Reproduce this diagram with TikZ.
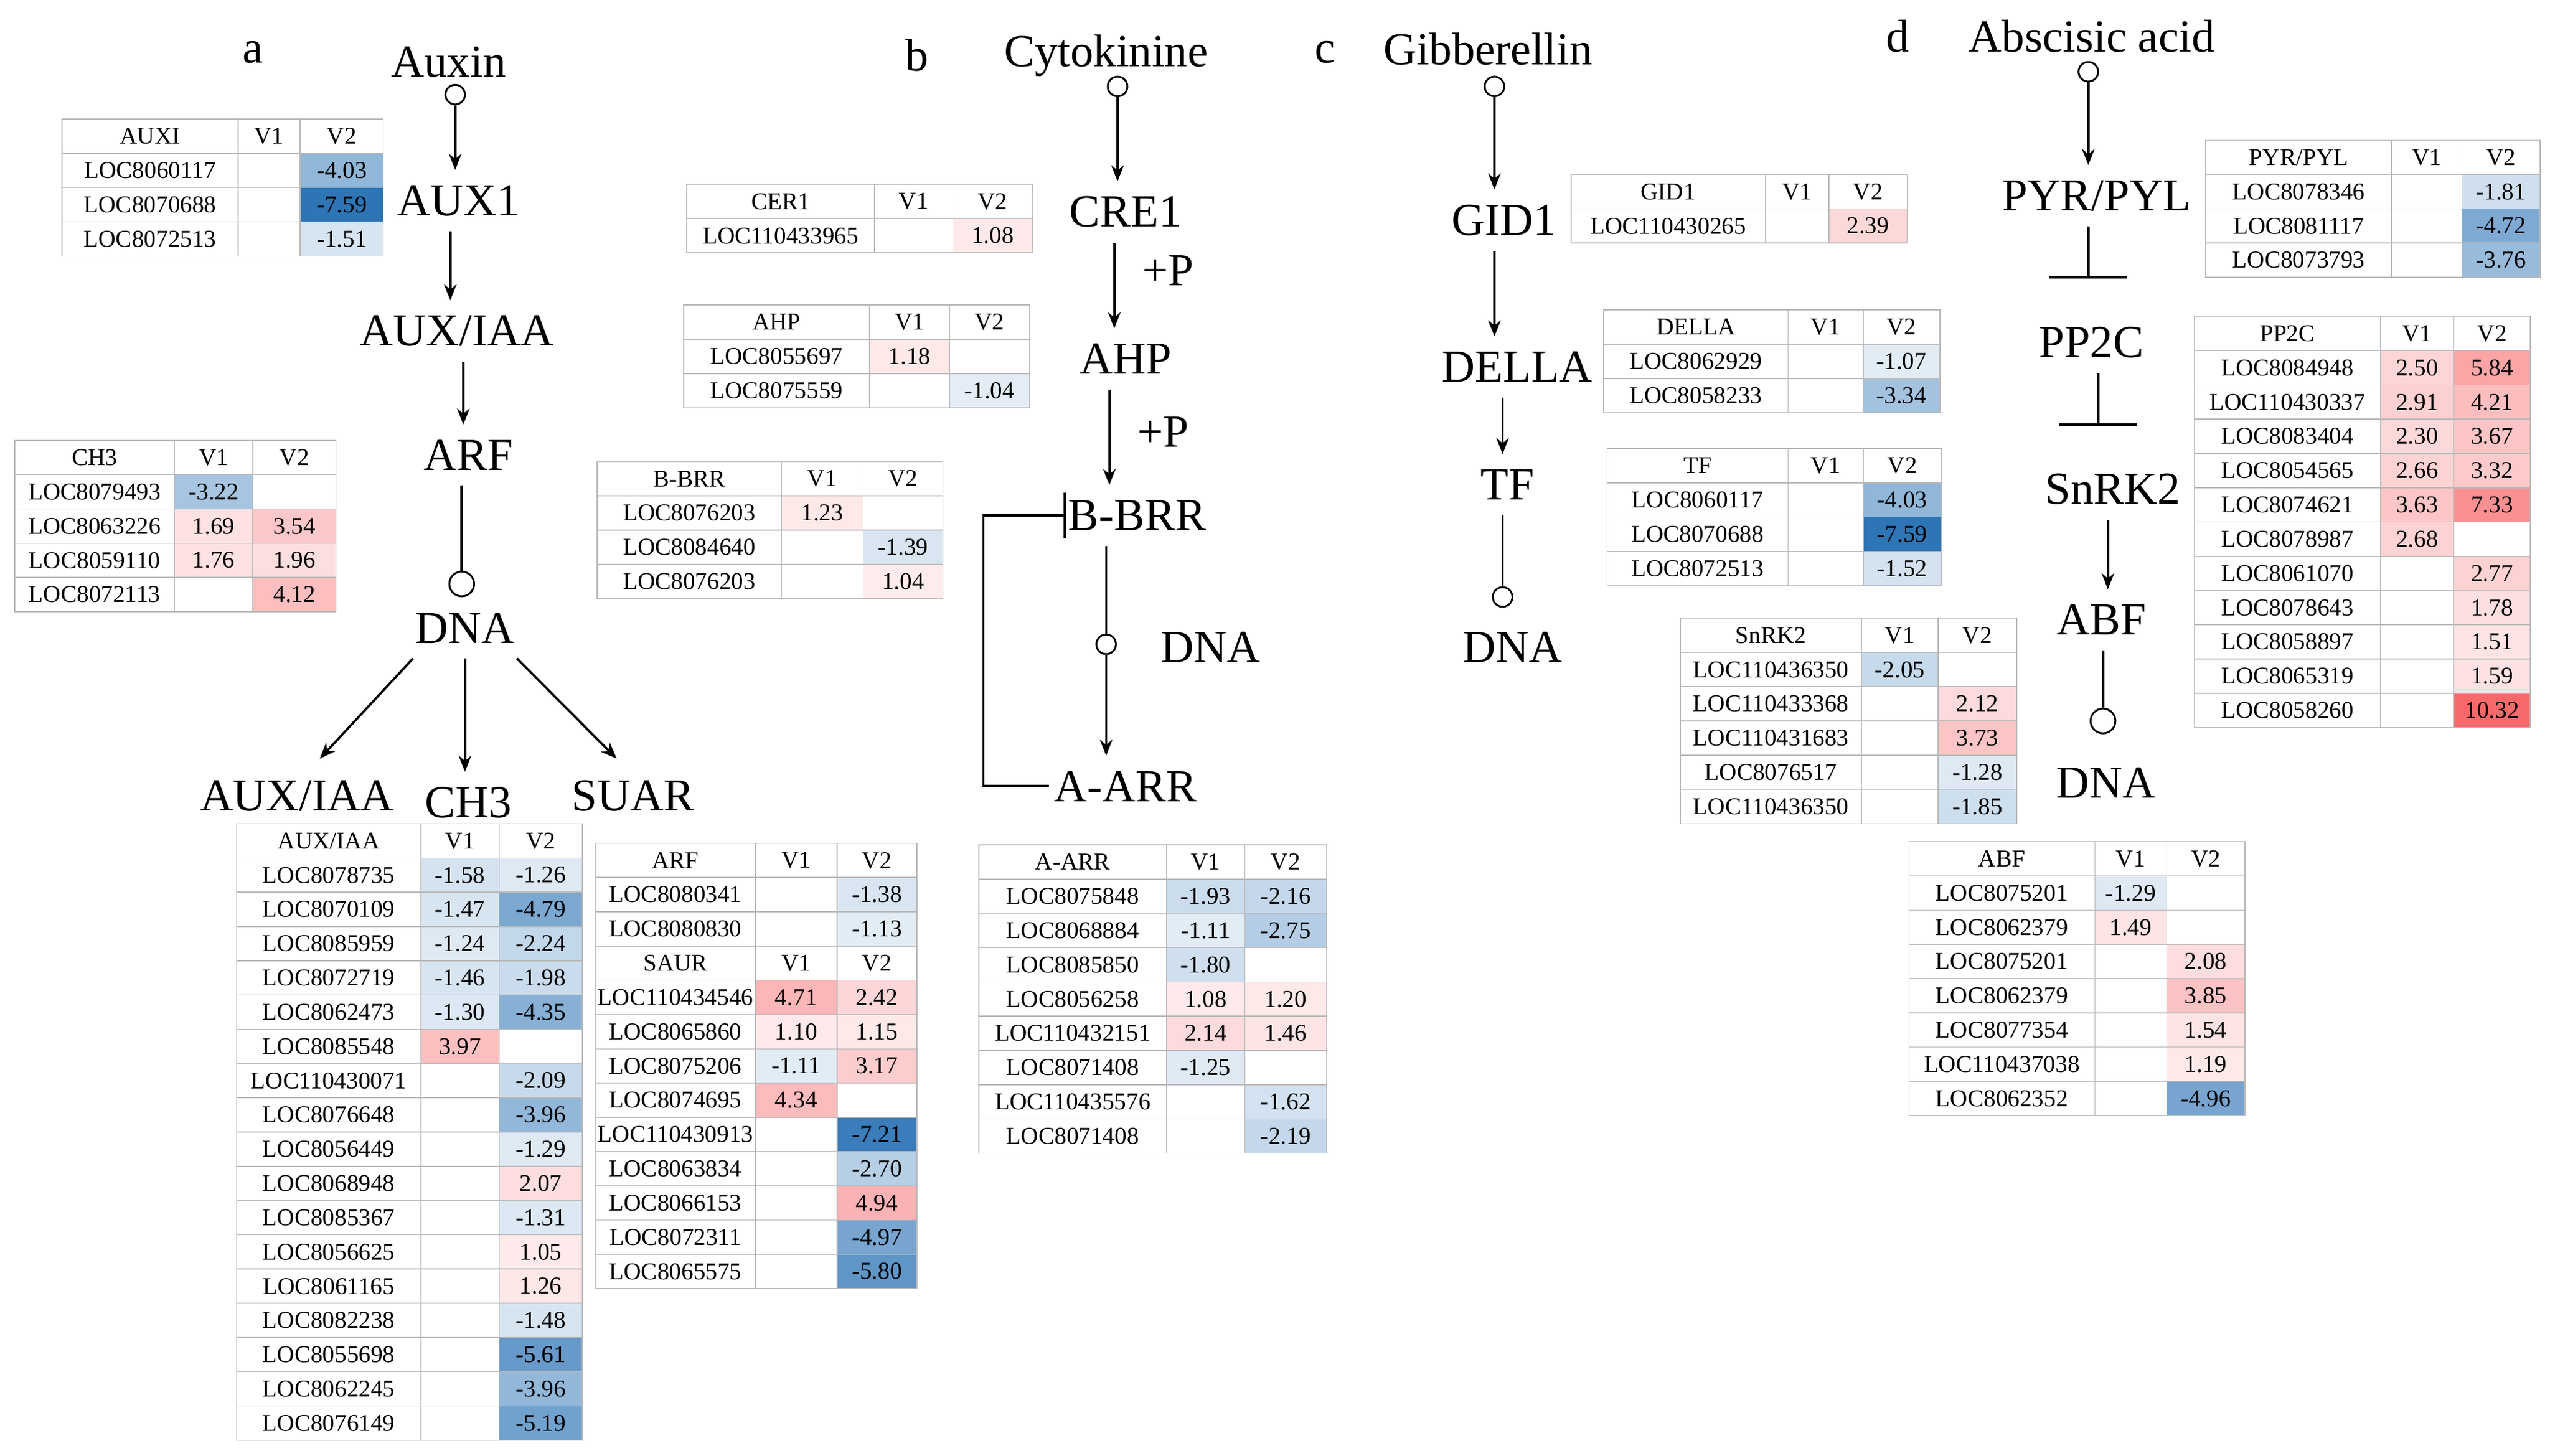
\documentclass[tikz,border=0pt]{standalone}
\usepackage{fontspec}
\setmainfont{Liberation Serif}
\usetikzlibrary{arrows.meta}
\definecolor{cb}{RGB}{46,117,182}
\definecolor{cr}{RGB}{248,105,107}
\definecolor{gl}{RGB}{185,185,185}
\tikzset{
 tt/.style={font=\fontsize{10.5}{12}\selectfont,inner sep=0pt},
 big/.style={font=\fontsize{20}{24}\selectfont,inner sep=6.5pt},
 circ/.style={circle,draw,line width=0.8pt,minimum size=0.3cm,inner sep=0pt},
 circB/.style={circle,draw,line width=0.8pt,minimum size=0.38cm,inner sep=0pt},
 ln/.style={line width=1pt},
 arr/.style={line width=1pt,-{Stealth[length=7pt,width=5.5pt]}},
 inh/.style={line width=1pt,-{Bar[width=34pt,line width=1pt]}},
}
\newcommand\vcell[4]{\edef\tmpv{#4}\ifx\tmpv\empty\else
 \ifdim\tmpv pt<0pt
   \pgfmathtruncatemacro\pc{min(100,abs(\tmpv)/7.59*100)}\fill[cb!\pc!white] (#1,#2) rectangle ++(#3,21);
 \else
   \pgfmathtruncatemacro\pc{min(100,4+\tmpv*9.6)}\fill[cr!\pc!white] (#1,#2) rectangle ++(#3,21);
 \fi
 \node[tt] at (#1+#3/2,#2+10.5) {\tmpv};\fi}
\newcommand\tbl[7]{\begin{scope}[shift={(#1,#2)}]
 \pgfmathsetmacro\xb{#3}\pgfmathsetmacro\xc{#3+#4}
 \node[tt] at (#3/2,10.5){#6}; \node[tt] at (\xb+#4/2,10.5){V1}; \node[tt] at (\xc+#5/2,10.5){V2};
 \draw[gl] (0,0) rectangle (#3,21) (\xb,0) rectangle ++(#4,21) (\xc,0) rectangle ++(#5,21);
 \foreach \n/\a/\b [count=\i] in {#7}{
   \pgfmathsetmacro\yy{\i*21}
   \vcell{\xb}{\yy}{#4}{\a}\vcell{\xc}{\yy}{#5}{\b}
   \node[tt] at (#3/2,\yy+10.5){\n};
   \draw[gl] (0,\yy) rectangle ++(#3,21) (\xb,\yy) rectangle ++(#4,21) (\xc,\yy) rectangle ++(#5,21);
 }\end{scope}}
\begin{document}
\begin{tikzpicture}[x=0.025cm,y=-0.025cm]
\path[use as bounding box] (0,0) rectangle (1563,892.6);
% ---------- panel a
\node[big] (la) at (155,32){a};
\node[big] (auxin) at (275,38){Auxin};
\node[circ] (ca) at (279,58){};
\node[big] (aux1) at (281,123){AUX1};
\node[big] (auxiaa) at (280,203){AUX/IAA};
\node[big] (arf) at (287,279){ARF};
\node[circB] (cad) at (283,358){};
\node[big] (dnaa) at (285,385){DNA};
\node[big] (o1) at (182,488){AUX/IAA};
\node[big] (o2) at (287,492){CH3};
\node[big] (o3) at (388,488){SUAR};
\draw[arr] (ca.south) -- (ca.south |- aux1.north);
\draw[arr] (aux1.south) ++(-5,0) coordinate(t0) -- (t0 |- auxiaa.north);
\draw[arr] (auxiaa.south) ++(4,0) coordinate (t1) -- (t1 |- arf.north);
\draw[ln] (cad |- arf.south) -- (cad.north);
\draw[arr] (dnaa.south west) ++(8,0) coordinate(t2) -- ([xshift=0.35cm,yshift=0.1cm]o1.north);
\draw[arr] (dnaa.south) -- (dnaa.south |- o2.north);
\draw[arr] (dnaa.south east) ++(-8,0) coordinate(t3) -- ([xshift=-0.25cm,yshift=0.1cm]o3.north);
\tbl{38}{73}{108}{38}{51}{AUXI}{LOC8060117//-4.03,LOC8070688//-7.59,LOC8072513//-1.51}
\tbl{9}{270}{98}{48}{51}{CH3}{LOC8079493/-3.22/,LOC8063226/1.69/3.54,LOC8059110/1.76/1.96,LOC8072113//4.12}
\tbl{145}{505}{113}{48}{51}{AUX/IAA}{LOC8078735/-1.58/-1.26,LOC8070109/-1.47/-4.79,LOC8085959/-1.24/-2.24,LOC8072719/-1.46/-1.98,LOC8062473/-1.30/-4.35,LOC8085548/3.97/,LOC110430071//-2.09,LOC8076648//-3.96,LOC8056449//-1.29,LOC8068948//2.07,LOC8085367//-1.31,LOC8056625//1.05,LOC8061165//1.26,LOC8082238//-1.48,LOC8055698//-5.61,LOC8062245//-3.96,LOC8076149//-5.19}
% ---------- panel b
\node[big] (lb) at (562,34){b};
\node[big] (cyto) at (678,34){Cytokinine};
\node[circ] (cb1) at (685,53){};
\node[big] (cre1) at (690,130){CRE1};
\node[big] (p1) at (716,166){+P};
\node[big] (ahp) at (690,220){AHP};
\node[big] (p2) at (713,265){+P};
\node[big] (bbrr) at (697,316){B-BRR};
\node[circ] (cbd) at (678,395){};
\node[big] (dnab) at (742,397){DNA};
\node[big] (aarr) at (690,482){A-ARR};
\draw[arr] (cb1.south) -- (cb1.south |- cre1.north);
\draw[arr] (cre1.south) ++(-7,0) coordinate(t4) -- (t4 |- ahp.north);
\draw[arr] (ahp.south) ++(-10,0) coordinate(t5) -- (t5 |- bbrr.north);
\draw[ln] (cbd |- bbrr.south) -- (cbd.north);
\draw[arr] (cbd.south) -- (cbd.south |- aarr.north);
\draw[line width=1pt,-{Bar[width=20pt,line width=1pt]}] ([xshift=0.15cm]aarr.west) -- ++(-40,0) |- ([xshift=0.2cm]bbrr.west);
\tbl{421}{113}{115}{48}{49}{CER1}{LOC110433965//1.08}
\tbl{419}{187}{114}{49}{49}{AHP}{LOC8055697/1.18/,LOC8075559//-1.04}
\tbl{366}{283}{113}{50}{49}{B-BRR}{LOC8076203/1.23/,LOC8084640//-1.39,LOC8076203//1.04}
\tbl{365}{517}{98}{50}{49}{ARF}{LOC8080341//-1.38,LOC8080830//-1.13}
\tbl{365}{580}{98}{50}{49}{SAUR}{LOC110434546/4.71/2.42,LOC8065860/1.10/1.15,LOC8075206/-1.11/3.17,LOC8074695/4.34/,LOC110430913//-7.21,LOC8063834//-2.70,LOC8066153//4.94,LOC8072311//-4.97,LOC8065575//-5.80}
\tbl{600}{518}{115}{48}{50}{A-ARR}{LOC8075848/-1.93/-2.16,LOC8068884/-1.11/-2.75,LOC8085850/-1.80/,LOC8056258/1.08/1.20,LOC110432151/2.14/1.46,LOC8071408/-1.25/,LOC110435576//-1.62,LOC8071408//-2.19}
% ---------- panel c
\node[big] (lc) at (812,32){c};
\node[big] (gib) at (912,30){Gibberellin};
\node[circ] (cc1) at (916,53){};
\node[big] (gid1) at (922,135){GID1};
\node[big] (della) at (930,225){DELLA};
\node[big] (tf) at (924,297){TF};
\node[circ] (ccd) at (921,366){};
\node[big] (dnac) at (927,397){DNA};
\draw[arr] (cc1.south) -- (cc1.south |- gid1.north);
\draw[arr] (cc1.south |- gid1.south) -- (cc1.south |- della.north);
\draw[arr] (ccd |- della.south) -- (ccd |- tf.north);
\draw[ln] (ccd |- tf.south) -- (ccd.north);
\tbl{963}{107}{119}{39}{48}{GID1}{LOC110430265//2.39}
\tbl{983}{190}{113}{46}{47}{DELLA}{LOC8062929//-1.07,LOC8058233//-3.34}
\tbl{985}{275}{111}{46}{48}{TF}{LOC8060117//-4.03,LOC8070688//-7.59,LOC8072513//-1.52}
\tbl{1030}{379}{111}{47}{48}{SnRK2}{LOC110436350/-2.05/,LOC110433368//2.12,LOC110431683//3.73,LOC8076517//-1.28,LOC110436350//-1.85}
% ---------- panel d
\node[big] (ld) at (1163,22){d};
\node[big] (aba) at (1282,22){Abscisic acid};
\node[circ] (cd1) at (1280,44){};
\node[big] (pyr) at (1285,120){PYR/PYL};
\node[big] (pp2c) at (1282,210){PP2C};
\node[big] (snrk) at (1295,300){SnRK2};
\node[big] (abf) at (1288,380){ABF};
\node[circB] (cdd) at (1289,442){};
\node[big] (dnad) at (1291,480){DNA};
\draw[arr] (cd1.south) -- (cd1.south |- pyr.north);
\draw[inh] (cd1.south |- pyr.south) -- ++(0,32);
\draw[inh] (pp2c.south) ++(4,0) coordinate(t6) -- ++(0,32);
\draw[arr] (snrk.south) ++(-3,0) coordinate(t7) -- (t7 |- abf.north);
\draw[ln] (cdd |- abf.south) -- (cdd.north);
\tbl{1352}{86}{114}{43}{48}{PYR/PYL}{LOC8078346//-1.81,LOC8081117//-4.72,LOC8073793//-3.76}
\tbl{1345}{194}{114}{45}{47}{PP2C}{LOC8084948/2.50/5.84,LOC110430337/2.91/4.21,LOC8083404/2.30/3.67,LOC8054565/2.66/3.32,LOC8074621/3.63/7.33,LOC8078987/2.68/,LOC8061070//2.77,LOC8078643//1.78,LOC8058897//1.51,LOC8065319//1.59,LOC8058260//10.32}
\tbl{1170}{516}{114}{44}{48}{ABF}{LOC8075201/-1.29/,LOC8062379/1.49/,LOC8075201//2.08,LOC8062379//3.85,LOC8077354//1.54,LOC110437038//1.19,LOC8062352//-4.96}
\end{tikzpicture}
\end{document}
